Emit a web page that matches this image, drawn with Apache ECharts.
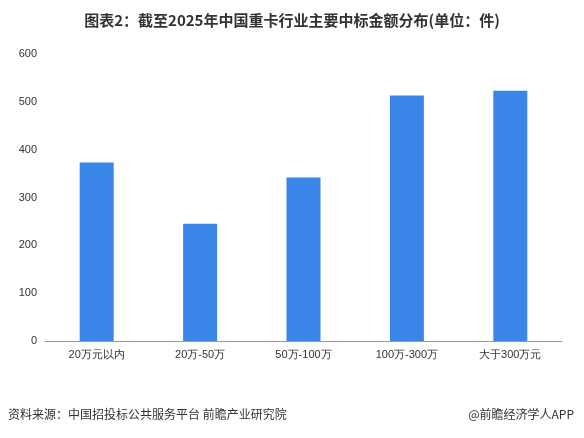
<html>
<head>
    <meta charset="utf-8" />
    <script src="https://cdn.jsdelivr.net/npm/echarts@6/dist/echarts.min.js"></script>
    <style>body{margin:0;background:#fff}</style>
</head>
<body>
    <div id="main" style="width:584px;height:438px;"></div>
    <script>
        var categories = ['20万元以内', '20万-50万', '50万-100万', '100万-300万', '大于300万元'];
        var counts = [373, 245, 342, 513, 523];

        var myChart = echarts.init(document.getElementById('main'));
        var option = {
            title: {
                left: 'center', top: 8,
                text: '图表2：截至2025年中国重卡行业主要中标金额分布(单位：件)',
                textStyle: {fontSize: 15, fontWeight: 'bold', color: '#333', fontFamily: 'Noto Sans CJK SC'}
            },
            graphic: [
                {type: 'text', left: 8, top: 408, style: {text: '资料来源：中国招投标公共服务平台 前瞻产业研究院', fontSize: 12, fill: '#333', fontFamily: 'Noto Sans CJK SC'}},
                {type: 'text', right: 10, top: 408, style: {text: '@前瞻经济学人APP', fontSize: 12, fill: '#333', fontFamily: 'Noto Sans CJK SC'}}
            ],
            grid: {left: 45, right: 22, top: 54, bottom: 97},
            xAxis: {
                type: 'category', data: categories,
                axisTick: {show: false},
                axisLine: {lineStyle: {color: '#999'}},
                axisLabel: {color: '#333', fontSize: 11}
            },
            yAxis: {
                type: 'value', min: 0, max: 600, interval: 100,
                splitLine: {show: false},
                axisLabel: {color: '#333', fontSize: 11}
            },
            series: [{
                type: 'bar', data: counts, barWidth: 34,
                itemStyle: {color: '#3a86e8'}
            }]
        };
        myChart.setOption(option);
    </script>
</body>
</html>
